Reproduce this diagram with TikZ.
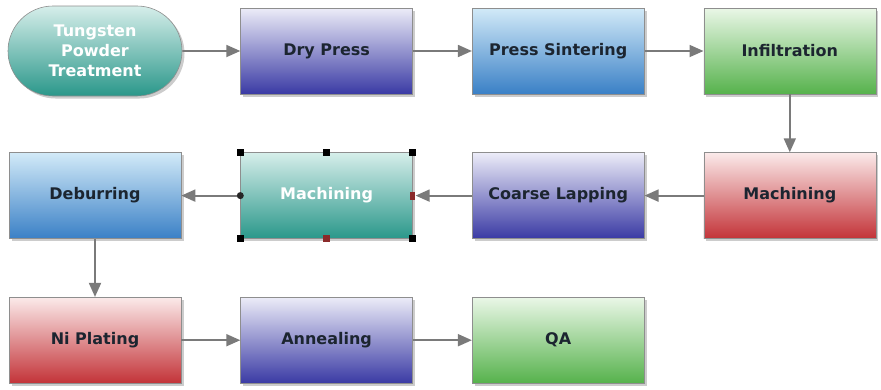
\documentclass[tikz,border=0pt]{standalone}
\usepackage{fontspec}
\setmainfont{DejaVu Sans}
\usepackage{tikz}
\usetikzlibrary{arrows.meta,positioning,shapes.misc,shadows}
\definecolor{ink}{HTML}{1C2530}
\definecolor{wire}{HTML}{7A7A7A}
\definecolor{rim}{HTML}{8E8E8E}
\definecolor{purpleTop}{HTML}{ECECF8}
\definecolor{purpleBot}{HTML}{3A3AA4}
\definecolor{blueTop}{HTML}{D2EAF8}
\definecolor{blueBot}{HTML}{3A80C6}
\definecolor{greenTop}{HTML}{EAF7E7}
\definecolor{greenBot}{HTML}{56B24C}
\definecolor{redTop}{HTML}{FBEAEA}
\definecolor{redBot}{HTML}{C33338}
\definecolor{tealTop}{HTML}{D6EEEA}
\definecolor{tealBot}{HTML}{2A978A}
\definecolor{grip}{HTML}{8B2A2A}

\begin{document}
\begin{tikzpicture}[
  x=1pt,y=1pt,
  node distance=58pt and 59pt,
  stage/.style={rectangle,draw=rim,line width=0.6pt,minimum width=172pt,minimum height=86pt,inner sep=2pt,align=center,text=ink,font=\bfseries\fontsize{16}{20}\selectfont,drop shadow={shadow xshift=2.5pt,shadow yshift=-2.5pt,opacity=.4}},
  purplebox/.style={stage,top color=purpleTop,bottom color=purpleBot},
  bluebox/.style={stage,top color=blueTop,bottom color=blueBot},
  greenbox/.style={stage,top color=greenTop,bottom color=greenBot},
  redbox/.style={stage,top color=redTop,bottom color=redBot},
  tealbox/.style={stage,top color=tealTop,bottom color=tealBot,text=white},
  pill/.style={tealbox,rounded rectangle,minimum width=178pt,minimum height=90pt},
  handle/.style={rectangle,fill=black,minimum size=7pt,inner sep=0pt},
  arr/.style={-{Triangle[length=14pt,width=12pt]},line width=1.8pt,draw=wire}
]
\useasboundingbox (0,0) rectangle (881,-389);
% first row
\node[pill] (powder) at (95,-51) {Tungsten\\Powder\\Treatment};
\node[purplebox,right=58pt of powder] (press) {Dry Press};
\node[bluebox,right=of press] (sinter) {Press Sintering};
\node[greenbox,right=of sinter] (infil) {Infiltration};
% second row, running back
\node[redbox,below=of infil] (mach) {Machining};
\node[purplebox,left=of mach] (lap) {Coarse Lapping};
\node[tealbox,left=of lap] (remach) {Machining};
\node[bluebox,left=of remach] (deburr) {Deburring};
% third row
\node[redbox,below=of deburr] (niplate) {Ni Plating};
\node[purplebox,right=of niplate] (anneal) {Annealing};
\node[greenbox,right=of anneal] (qa) {QA};
% selection handles on the second machining step
\node[handle] (hnw) at (remach.north west) {};
\node[handle] (hn) at (remach.north) {};
\node[handle] (hne) at (remach.north east) {};
\node[handle] (hsw) at (remach.south west) {};
\node[handle] (hse) at (remach.south east) {};
\node[handle,fill=grip] (hs) at (remach.south) {};
\node[handle,fill=grip,minimum width=5pt,minimum height=8pt] (he) at (remach.east) {};
\node[circle,fill=black!85,minimum size=7pt,inner sep=0pt] (hw) at (remach.west) {};
\draw[arr] (powder)--(press);
\draw[arr] (press)--(sinter);
\draw[arr] (sinter)--(infil);
\draw[arr] (infil)--(mach);
\draw[arr] (mach)--(lap);
\draw[arr] (lap)--(he);
\draw[arr] (hw)--(deburr);
\draw[arr] (deburr)--(niplate);
\draw[arr] (niplate)--(anneal);
\draw[arr] (anneal)--(qa);
\end{tikzpicture}
\end{document}
